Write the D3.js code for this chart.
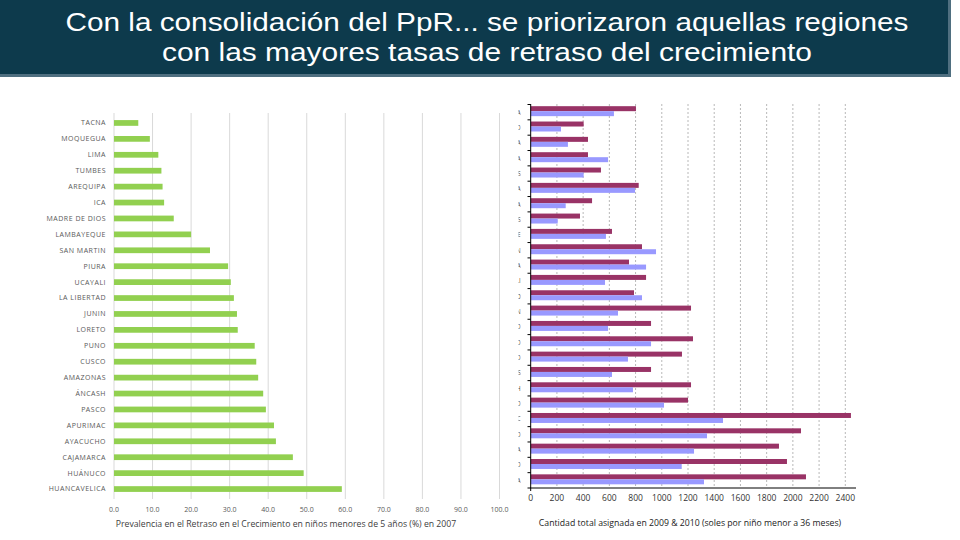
<!DOCTYPE html>
<html><head><meta charset="utf-8">
<script src="https://cdn.jsdelivr.net/npm/d3@7"></script>
<style>body{margin:0;background:#fff;}svg{display:block;}</style>
</head><body>
<svg id="c" width="960" height="540"></svg>
<script>
const titleLines = ["Con la consolidación del PpR... se priorizaron aquellas regiones", "con las mayores tasas de retraso del crecimiento"];
const regions = ["TACNA","MOQUEGUA","LIMA","TUMBES","AREQUIPA","ICA","MADRE DE DIOS","LAMBAYEQUE","SAN MARTIN","PIURA","UCAYALI","LA LIBERTAD","JUNIN","LORETO","PUNO","CUSCO","AMAZONAS","ÁNCASH","PASCO","APURIMAC","AYACUCHO","CAJAMARCA","HUÁNUCO","HUANCAVELICA"];
const stunting = [6.3,9.3,11.5,12.3,12.6,13.0,15.5,20.0,24.9,29.6,30.3,31.1,31.9,32.1,36.5,36.9,37.4,38.7,39.4,41.5,42.0,46.4,49.2,59.1];
const leftTicks = [0,10,20,30,40,50,60,70,80,90,100];
const rightRegions = ["TACNA","CALLAO","MOQUEGUA","LIMA","TUMBES","AREQUIPA","ICA","MADRE DE DIOS","LAMBAYEQUE","SAN MARTIN","PIURA","UCAYALI","LA LIBERTAD","JUNIN","LORETO","PUNO","CUSCO","AMAZONAS","ÁNCASH","PASCO","APURIMAC","AYACUCHO","CAJAMARCA","HUÁNUCO","HUANCAVELICA"];
const amountA = [803,404,437,437,536,824,468,376,620,849,750,880,788,1223,918,1238,1154,918,1223,1200,2443,2062,1894,1955,2100];
const amountB = [635,231,284,590,404,796,267,206,574,956,880,567,849,666,590,918,742,620,780,1017,1467,1345,1246,1152,1322];
const rightTicks = [0,200,400,600,800,1000,1200,1400,1600,1800,2000,2200,2400];
const leftTitle = "Prevalencia en el Retraso en el Crecimiento en niños menores de 5 años (%) en 2007";
const rightTitle = "Cantidad total asignada en 2009 & 2010 (soles por niño menor a 36 meses)";

const svg = d3.select("#c");
const font = "'Open Sans', 'Noto Sans', sans-serif";

// title bar
svg.append("rect").attr("x",0).attr("y",0).attr("width",951).attr("height",77).attr("fill","#4f6f80");
svg.append("rect").attr("x",0).attr("y",0).attr("width",948).attr("height",74).attr("fill","#0d3a4c");
const titleLen = [843, 650];
svg.append("g").selectAll("text").data(titleLines).join("text")
  .attr("x",487).attr("y",(d,i)=>31+i*30).attr("text-anchor","middle")
  .attr("fill","#fff").attr("font-family","'Liberation Sans', Arial, sans-serif").attr("font-size",25)
  .attr("textLength",(d,i)=>titleLen[i]).attr("lengthAdjust","spacingAndGlyphs")
  .text(d=>d);

// LEFT chart
const xL = d3.scaleLinear().domain([0,100]).range([114,499.5]);
const yL = d3.scaleBand().domain(regions).range([115,497]).paddingInner(0.64).paddingOuter(0.32);
const gL = svg.append("g");
gL.selectAll("line.grid").data(leftTicks).join("line")
  .attr("x1",d=>xL(d)).attr("x2",d=>xL(d)).attr("y1",113).attr("y2",499)
  .attr("stroke","#d9d9d9").attr("stroke-width",1);
gL.selectAll("rect").data(regions).join("rect")
  .attr("x",xL(0)).attr("y",d=>yL(d)).attr("height",yL.bandwidth())
  .attr("width",(d,i)=>xL(stunting[i])-xL(0)).attr("fill","#92d050");
gL.selectAll("text.lab").data(regions).join("text")
  .attr("x",106).attr("y",d=>yL(d)+yL.bandwidth()/2).attr("dy","0.35em")
  .attr("text-anchor","end").attr("font-family",font).attr("font-size",7)
  .attr("letter-spacing","0.5px").attr("fill","#595959").text(d=>d);
gL.selectAll("text.tick").data(leftTicks).join("text")
  .attr("x",d=>xL(d)).attr("y",512).attr("text-anchor","middle")
  .attr("font-family",font).attr("font-size",7).attr("fill","#595959").text(d=>d.toFixed(1));
gL.append("text").attr("x",286).attr("y",527).attr("text-anchor","middle")
  .attr("font-family",font).attr("font-size",8.7).attr("fill","#404040").text(leftTitle);

// RIGHT chart
const xR = d3.scaleLinear().domain([0,2400]).range([530.7,845.3]);
const yR = d3.scaleBand().domain(rightRegions).range([104.5,488]).paddingInner(0.35).paddingOuter(0.175);
const gR = svg.append("g");
gR.selectAll("line.grid").data(rightTicks.slice(1)).join("line")
  .attr("x1",d=>xR(d)).attr("x2",d=>xR(d)).attr("y1",104).attr("y2",488)
  .attr("stroke","#b8b8b8").attr("stroke-width",1).attr("stroke-dasharray","2,2");
const half = yR.bandwidth()/2;
gR.selectAll("rect.a").data(rightRegions).join("rect")
  .attr("x",xR(0)).attr("y",d=>yR(d)-1).attr("height",half)
  .attr("width",(d,i)=>xR(amountA[i])-xR(0)).attr("fill","#993366");
gR.selectAll("rect.b").data(rightRegions).join("rect")
  .attr("x",xR(0)).attr("y",d=>yR(d)-1+half).attr("height",half)
  .attr("width",(d,i)=>xR(amountB[i])-xR(0)).attr("fill","#9999ff");
// clipped category labels (mostly hidden in original)
svg.append("clipPath").attr("id","clipL").append("rect").attr("x",518.5).attr("y",100).attr("width",2).attr("height",395);
gR.append("g").attr("clip-path","url(#clipL)").selectAll("text").data(rightRegions).join("text")
  .attr("x",521).attr("y",d=>yR(d)+half).attr("dy","0.35em").attr("text-anchor","end")
  .attr("font-family",font).attr("font-size",7).attr("fill","#404040").text(d=>d);
// axes
gR.append("line").attr("x1",530.7).attr("x2",530.7).attr("y1",104).attr("y2",488).attr("stroke","#000");
gR.selectAll("line.ytick").data(d3.range(rightRegions.length+1)).join("line")
  .attr("x1",527.5).attr("x2",530.7).attr("y1",i=>yR.range()[0]+i*yR.step()).attr("y2",i=>yR.range()[0]+i*yR.step())
  .attr("stroke","#000");
gR.append("line").attr("x1",530).attr("x2",856).attr("y1",488).attr("y2",488).attr("stroke","#000");
gR.append("line").attr("x1",530.7).attr("x2",530.7).attr("y1",488).attr("y2",491).attr("stroke","#000");
gR.selectAll("text.tick").data(rightTicks).join("text")
  .attr("x",d=>xR(d)).attr("y",501).attr("text-anchor","middle")
  .attr("font-family",font).attr("font-size",8.5).attr("fill","#333").text(d=>d);
gR.append("text").attr("x",690).attr("y",526).attr("text-anchor","middle")
  .attr("font-family",font).attr("font-size",8.7).attr("fill","#222").text(rightTitle);
</script>
</body></html>
